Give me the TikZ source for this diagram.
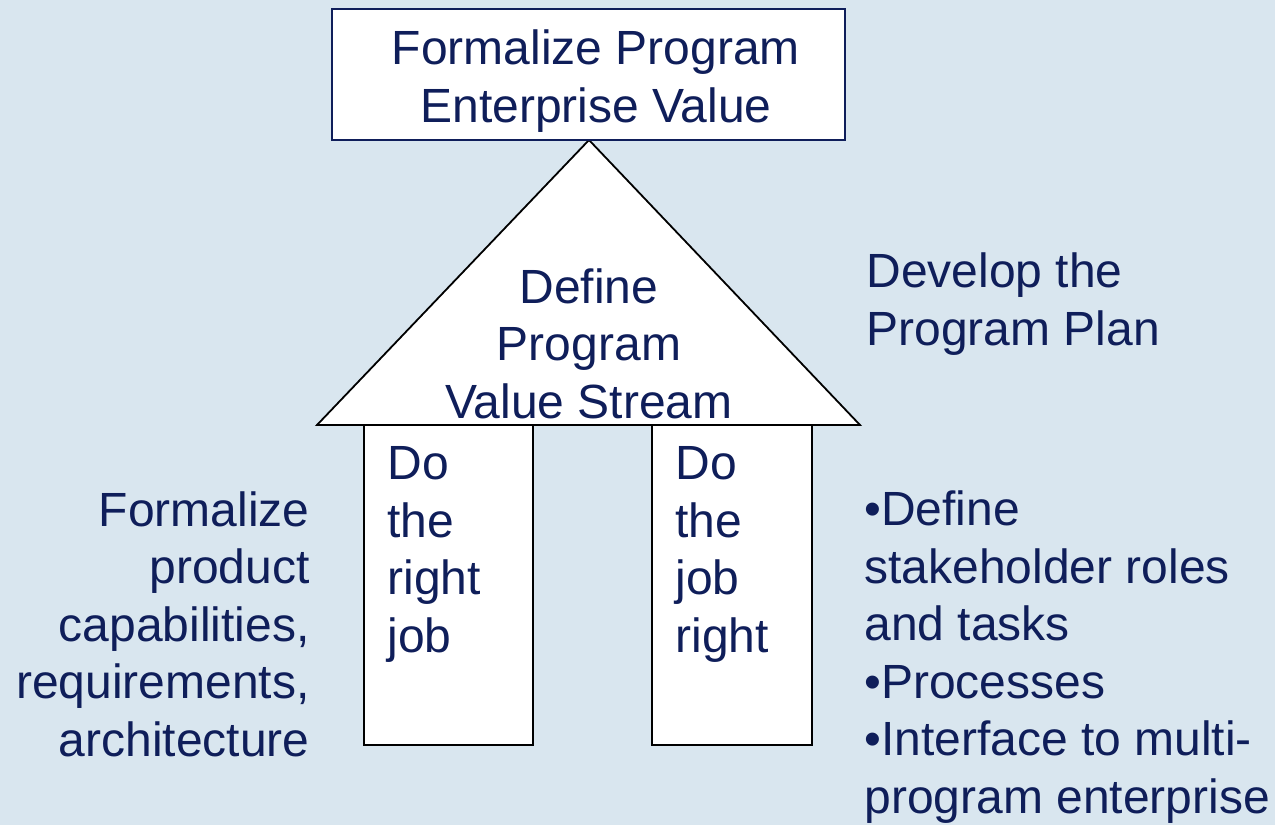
\documentclass[tikz,border=0pt]{standalone}
\usepackage{fontspec}
\setmainfont{Liberation Sans}
\usepackage{tikz}
\usetikzlibrary{positioning}
\definecolor{bgblue}{HTML}{D9E6EF}
\definecolor{navy}{HTML}{0F1E5A}
\tikzset{
  label text/.style={text=navy, inner sep=0pt, font=\fontsize{24}{28.75}\selectfont},
  part/.style={draw=black, fill=white, line width=0.9pt}
}

\begin{document}
\begin{tikzpicture}[x=0.5pt, y=-0.5pt]
    \fill[bgblue] (0,0) rectangle (1275,825);
    \useasboundingbox (0,0) rectangle (1275,825);
    % House
    \coordinate (apex) at (589,140);
    \coordinate (eaveL) at (317,425);
    \coordinate (eaveR) at (860,425);
    \draw[part] (eaveL) -- (apex) -- (eaveR) -- cycle;
    \draw[part] (364,425) rectangle (533,745);
    \draw[part] (652,425) rectangle (812,745);
    \draw[part, draw=navy] (332,9) rectangle (845,140);
    % Labels in the house (base = last line)
    \node[label text, anchor=base, align=center] (top) at (596,122) {Formalize Program\\Enterprise Value};
    \node[label text, anchor=base, align=center] (roof) at (589,418) {Define\\Program\\Value Stream};
    \node[label text, anchor=base west, align=left] (pillarL) at (387,652) {Do\\the\\right\\job};
    \node[label text, anchor=base west, align=left] (pillarR) at (675,652) {Do\\the\\job\\right};
    % Side notes
    \node[label text, anchor=base east, align=right] (product) at (310,756) {Formalize\\product\\capabilities,\\requirements,\\architecture};
    \node[label text, anchor=base west, align=left] (plan) at (866,345) {Develop the\\Program Plan};
    \node[label text, anchor=base west, align=left] (tasks) at (864,813) {•Define\\stakeholder roles\\and tasks\\•Processes\\•Interface to multi-\\program enterprise};
\end{tikzpicture}
\end{document}
